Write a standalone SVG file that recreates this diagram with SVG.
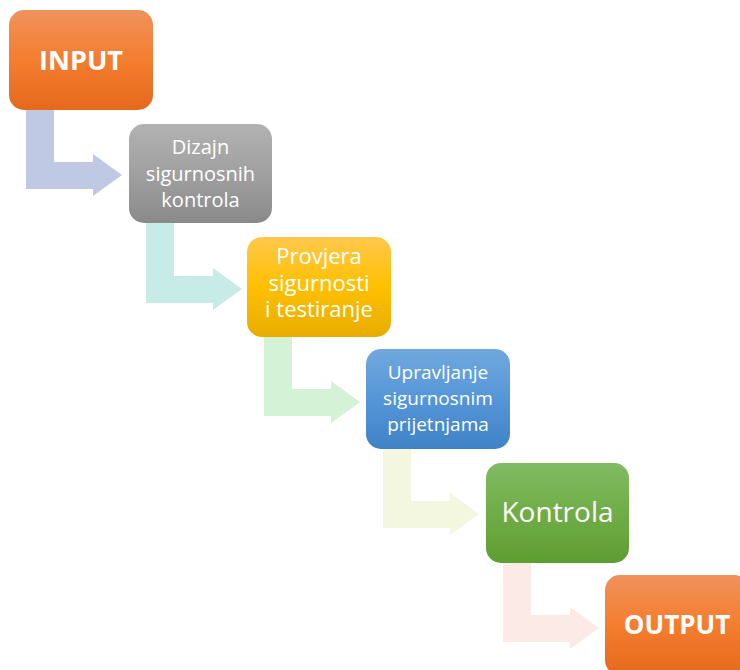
<svg xmlns="http://www.w3.org/2000/svg" xmlns:xlink="http://www.w3.org/1999/xlink" width="740" height="670" viewBox="0 0 740 670">
<style>
.t{font-family:"Open Sans","Liberation Sans",sans-serif;fill:#fff;text-anchor:middle}
.b{font-weight:bold}
</style>
<defs>
<linearGradient id="gO" x1="0" y1="0" x2="0" y2="1"><stop offset="0" stop-color="#F0925C"/><stop offset="0.5" stop-color="#F47D2E"/><stop offset="1" stop-color="#E5691C"/></linearGradient>
<linearGradient id="gG" x1="0" y1="0" x2="0" y2="1"><stop offset="0" stop-color="#B2B2B2"/><stop offset="0.5" stop-color="#A0A0A0"/><stop offset="1" stop-color="#8A8A8A"/></linearGradient>
<linearGradient id="gY" x1="0" y1="0" x2="0" y2="1"><stop offset="0" stop-color="#FFC84D"/><stop offset="0.5" stop-color="#FFC000"/><stop offset="1" stop-color="#E6AC00"/></linearGradient>
<linearGradient id="gB" x1="0" y1="0" x2="0" y2="1"><stop offset="0" stop-color="#71A8DD"/><stop offset="0.5" stop-color="#5596D8"/><stop offset="1" stop-color="#3F82C6"/></linearGradient>
<linearGradient id="gN" x1="0" y1="0" x2="0" y2="1"><stop offset="0" stop-color="#81BB63"/><stop offset="0.5" stop-color="#70AD47"/><stop offset="1" stop-color="#5E9D32"/></linearGradient>
<path id="arr" d="M17,98 L45,98 L45,152 L84,152 L84,144 L113,165 L84,186 L84,179 L17,179 Z"/>
</defs>
<g id="connectors">
<use xlink:href="#arr" x="9" y="10" fill="#C0C9E4"/>
<use xlink:href="#arr" x="129" y="124" fill="#C7EBE6"/>
<use xlink:href="#arr" x="247" y="237" fill="#D4F2D5"/>
<use xlink:href="#arr" x="366" y="349" fill="#F4F7DF"/>
<use xlink:href="#arr" x="486" y="463" fill="#FBEAE5"/>
</g>
<g id="input">
<rect x="9" y="10" width="144" height="100" rx="15" fill="url(#gO)"/>
<text class="t b" x="81" y="70" font-size="27">INPUT</text>
</g>
<g id="dizajn">
<rect x="129" y="124" width="143" height="99" rx="15" fill="url(#gG)"/>
<text class="t" x="200.5" font-size="20"><tspan x="200.5" y="154">Dizajn</tspan><tspan x="200.5" y="181">sigurnosnih</tspan><tspan x="200.5" y="207">kontrola</tspan></text>
</g>
<g id="provjera">
<rect x="247" y="237" width="144" height="100" rx="15" fill="url(#gY)"/>
<text class="t" x="319" font-size="22"><tspan x="319" y="264">Provjera</tspan><tspan x="319" y="290.5">sigurnosti</tspan><tspan x="319" y="317">i testiranje</tspan></text>
</g>
<g id="upravljanje">
<rect x="366" y="349" width="144" height="100" rx="15" fill="url(#gB)"/>
<text class="t" x="438" font-size="19"><tspan x="438" y="379">Upravljanje</tspan><tspan x="438" y="405">sigurnosnim</tspan><tspan x="438" y="431">prijetnjama</tspan></text>
</g>
<g id="kontrola">
<rect x="486" y="463" width="143" height="100" rx="15" fill="url(#gN)"/>
<text class="t" x="557.5" y="522" font-size="28">Kontrola</text>
</g>
<g id="output">
<rect x="605" y="575" width="144" height="100" rx="15" fill="url(#gO)"/>
<text class="t b" x="677" y="634" font-size="26">OUTPUT</text>
</g>
</svg>
